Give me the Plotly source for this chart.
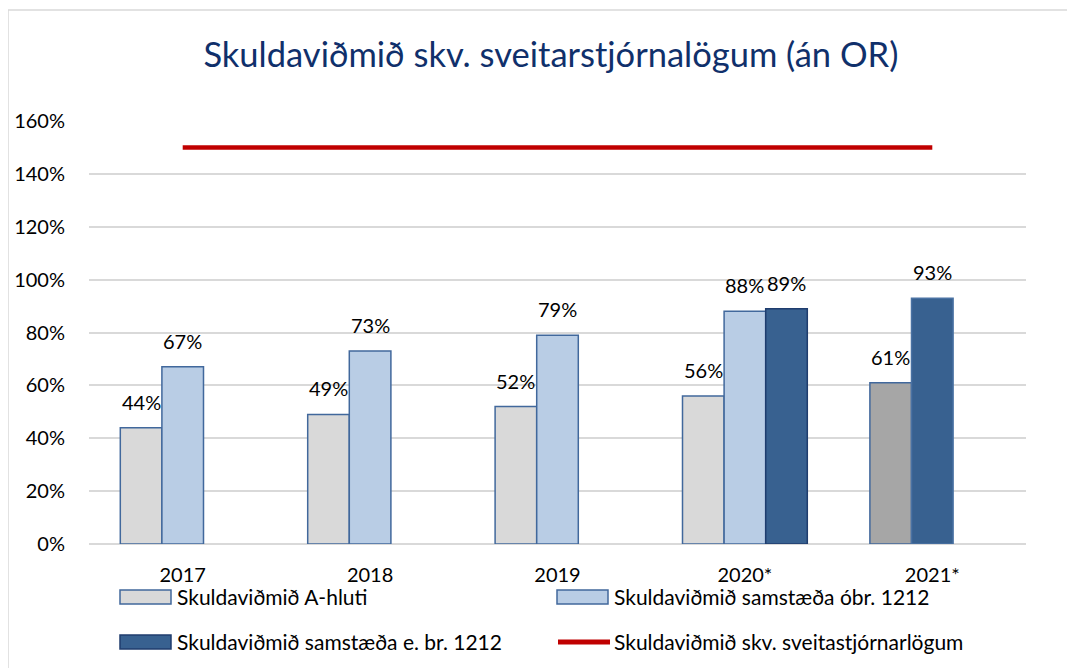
import plotly.graph_objects as go

years = ["2017", "2018", "2019", "2020*", "2021*"]
a_hluti = [0.44, 0.49, 0.52, 0.56, 0.61]
samst_obr = [0.67, 0.73, 0.79, 0.88, None]
samst_ebr = [None, None, None, 0.89, 0.93]
vidmid = [1.5, 1.5, 1.5, 1.5, 1.5]

names = ["Skuldaviðmið A-hluti", "Skuldaviðmið samstæða óbr. 1212",
         "Skuldaviðmið samstæða e. br. 1212", "Skuldaviðmið skv. sveitastjórnarlögum"]

FONT = "Lato"
W, H = 1075, 668
# page has an 8px body margin: figure pixel = window pixel - 8
ML, MR, MT, MB = 81, 57, 113, 132
plot_w = W - ML - MR
plot_h = H - MT - MB
cat_px = plot_w / len(years)

def py(win_y):
    """window pixel row -> paper y"""
    return (H - MB - (win_y - 8)) / plot_h

def px(win_x):
    return ((win_x - 8) - ML) / plot_w

C_GRAY, C_GRAY2, C_LIGHT, C_DARK = "#d9d9d9", "#a6a6a6", "#b9cde5", "#386190"
C_EDGE, C_EDGE_DARK, C_RED = "#41689c", "#1f3d6e", "#c00000"

bw = 0.222
off_a = [-1.5 * bw] * 5
off_obr = [-0.5 * bw] * 5
off_ebr = [0.5 * bw, 0.5 * bw, 0.5 * bw, 0.5 * bw, -0.5 * bw]

fig = go.Figure()
fig.add_trace(go.Bar(
    x=years, y=a_hluti, name=names[0], width=bw, offset=off_a,
    marker=dict(color=[C_GRAY] * 4 + [C_GRAY2], line=dict(color=C_EDGE, width=1.5))))
fig.add_trace(go.Bar(
    x=years, y=samst_obr, name=names[1], width=bw, offset=off_obr,
    marker=dict(color=C_LIGHT, line=dict(color=C_EDGE, width=1.5))))
fig.add_trace(go.Bar(
    x=years, y=samst_ebr, name=names[2], width=bw, offset=off_ebr,
    marker=dict(color=C_DARK, line=dict(color=[C_EDGE_DARK] * 4 + ["#4a72a3"], width=1.5))))
fig.add_trace(go.Scatter(
    x=years, y=vidmid, name=names[3], mode="lines",
    line=dict(color=C_RED, width=4.5)))

# data labels (x given as category index)
for vals, offs in [(a_hluti, off_a), (samst_obr, off_obr), (samst_ebr, off_ebr)]:
    for i, (v, o) in enumerate(zip(vals, offs)):
        if v is None:
            continue
        fig.add_annotation(
            x=i, y=v, xref="x", yref="y", text=f"{round(v * 100)}%", showarrow=False,
            xshift=(o + bw / 2) * cat_px, yanchor="bottom", yshift=12,
            font=dict(family=FONT, size=20, color="#000000"))

# outer border of chart area
fig.add_shape(type="rect", xref="paper", yref="paper",
              x0=px(8), x1=1.2, y0=-0.5, y1=py(10),
              line=dict(color="#d9d9d9", width=1.5), fillcolor="rgba(0,0,0,0)", layer="below")

# legend (Excel-style wide swatches)
legend_items = [
    (names[0], "rect", C_GRAY, C_EDGE, 120, 597),
    (names[1], "rect", C_LIGHT, C_EDGE, 557, 597),
    (names[2], "rect", C_DARK, C_EDGE_DARK, 120, 642),
    (names[3], "line", C_RED, C_RED, 557, 642),
]
for label, kind, fill, edge, lx, ly in legend_items:
    if kind == "rect":
        fig.add_shape(type="rect", xref="paper", yref="paper",
                      x0=px(lx), x1=px(lx + 51), y0=py(ly + 7), y1=py(ly - 7),
                      fillcolor=fill, line=dict(color=edge, width=1.5))
    else:
        fig.add_shape(type="line", xref="paper", yref="paper",
                      x0=px(lx + 1), x1=px(lx + 53), y0=py(ly), y1=py(ly),
                      line=dict(color=fill, width=5))
    fig.add_annotation(x=px(lx + 55), y=py(ly - 1), xref="paper", yref="paper",
                       text=label, showarrow=False, xanchor="left", yanchor="middle",
                       font=dict(family=FONT, size=21, color="#000000"))

fig.update_layout(
    width=W, height=H,
    margin=dict(l=ML, r=MR, t=MT, b=MB, autoexpand=False),
    paper_bgcolor="white", plot_bgcolor="white",
    barmode="overlay", showlegend=False,
    font=dict(family=FONT, size=20, color="#000000"),
    title=dict(text="Skuldaviðmið skv. sveitarstjórnalögum (án OR)",
               x=0.505, xanchor="center", y=1 - 47 / H, yanchor="middle",
               font=dict(family=FONT, size=34.5, color="#10306b")),
    xaxis=dict(type="category", categoryorder="array", categoryarray=years,
               range=[-0.5, len(years) - 0.5], automargin=False,
               showgrid=False, showline=False, ticks="", ticklabelstandoff=17,
               tickfont=dict(family=FONT, size=20, color="#000000")),
    yaxis=dict(range=[0, 1.6], dtick=0.2, tickformat=".0%", automargin=False,
               showgrid=True, gridcolor="#d9d9d9", gridwidth=1.5,
               zeroline=True, zerolinecolor="#d9d9d9", zerolinewidth=1.5,
               showline=False, ticks="", ticklabelstandoff=23,
               tickfont=dict(family=FONT, size=20, color="#000000")),
)

fig.write_html("out.html")
